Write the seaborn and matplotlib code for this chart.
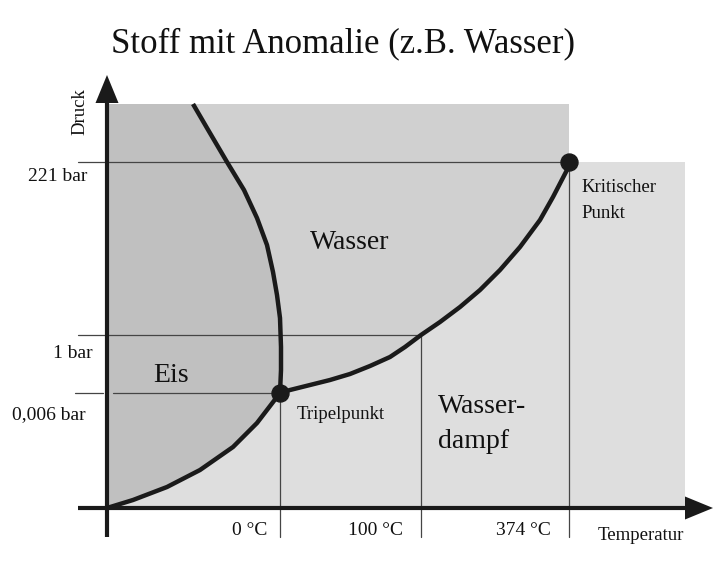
import matplotlib
matplotlib.use("Agg")
import matplotlib.pyplot as plt
import seaborn as sns
import pandas as pd

# ---- data (schematic phase diagram, axis origin at 0,0) ----
title = "Stoff mit Anomalie (z.B. Wasser)"

subl_T = [0, 26, 60, 93, 126, 150, 173]
subl_p = [0, 8, 21, 38, 61, 85, 115]

vap_T = [173, 183, 203, 223, 243, 263, 283, 298, 314, 333, 353, 373, 393,
         413, 433, 446, 460, 462]
vap_p = [115, 118, 123, 128, 134, 142, 151, 161, 173, 186, 201, 218, 238,
         261, 288, 311, 338, 346]

melt_T = [86, 100, 120, 137, 150, 160, 166, 170, 173, 174, 174, 173]
melt_p = [404, 380, 346, 318, 290, 263, 236, 213, 190, 161, 138, 115]

temp_ticks = [173, 314, 462]
temp_labels = ["0 °C", "100 °C", "374 °C"]
press_ticks = [115, 173, 346]
press_labels = ["0,006 bar", "1 bar", "221 bar"]

triple = (173, 115)
critical = (462, 346)
plot_top = 404
vapor_right = 578
axis_x_tip = 606
axis_y_tip = 433

sns.set_theme(style="white")
plt.rcParams["font.family"] = ["Liberation Serif", "DejaVu Serif"]

fig = plt.figure(figsize=(7.21, 5.62), dpi=100)
ax = fig.add_axes([0, 0, 1, 1])
ax.set_xlim(-107, 614)
ax.set_ylim(-54, 508)
ax.axis("off")

c_ice, c_water, c_vap = "#C0C0C0", "#D0D0D0", "#DEDEDE"
dark = "#1a1a1a"
thin = "#454545"

# water background rectangle
ax.fill_between([0, critical[0]], 0, plot_top, color=c_water, lw=0, zorder=0)
# vapor region
vx = subl_T + vap_T[1:] + [vapor_right, vapor_right]
vy = subl_p + vap_p[1:] + [critical[1], 0]
ax.fill(vx, vy, color=c_vap, lw=0, zorder=1)
# ice region
ix = subl_T + melt_T[::-1][1:] + [0]
iy = subl_p + melt_p[::-1][1:] + [plot_top]
ax.fill(ix, iy, color=c_ice, lw=0, zorder=1)

# thin guide lines
lw_thin = 0.9
ax.plot([-29, critical[0]], [press_ticks[2]] * 2, color=thin, lw=lw_thin, zorder=2)
ax.plot([-29, temp_ticks[1]], [press_ticks[1]] * 2, color=thin, lw=lw_thin, zorder=2)
ax.plot([-32, -4], [press_ticks[0]] * 2, color=thin, lw=lw_thin, zorder=2)
ax.plot([6, temp_ticks[0]], [press_ticks[0]] * 2, color=thin, lw=lw_thin, zorder=2)
ax.plot([temp_ticks[0]] * 2, [press_ticks[0], -29], color=thin, lw=lw_thin, zorder=2)
ax.plot([temp_ticks[1]] * 2, [press_ticks[1], -29], color=thin, lw=lw_thin, zorder=2)
ax.plot([temp_ticks[2]] * 2, [press_ticks[2], -29], color=thin, lw=lw_thin, zorder=2)

# phase boundary curves
for T, p in [(subl_T, subl_p), (vap_T, vap_p), (melt_T, melt_p)]:
    df = pd.DataFrame({"T": T, "p": p})
    sns.lineplot(data=df, x="T", y="p", sort=False, color=dark, lw=3.2,
                 ax=ax, zorder=3, estimator=None,
                 solid_joinstyle="round", solid_capstyle="butt")

# axes with arrows
ax.plot([0, 0], [-29, axis_y_tip - 28], color=dark, lw=3, zorder=4,
        solid_capstyle="butt")
ax.plot([-29, axis_x_tip - 28], [0, 0], color=dark, lw=3, zorder=4,
        solid_capstyle="butt")
ax.fill([-11.5, 11.5, 0], [axis_y_tip - 28] * 2 + [axis_y_tip], color=dark, lw=0, zorder=4)
ax.fill([axis_x_tip - 28] * 2 + [axis_x_tip], [-11.5, 11.5, 0], color=dark, lw=0, zorder=4)

# triple and critical points
pts = pd.DataFrame({"T": [triple[0], critical[0]], "p": [triple[1], critical[1]]})
sns.scatterplot(data=pts, x="T", y="p", s=150, color=dark, edgecolor=dark,
                ax=ax, zorder=5)

# texts
tc = "#111111"
ax.text(236, 456, title, fontsize=25, ha="center", va="baseline", color=tc)
small = 14
ax.text(203, 259, "Wasser", fontsize=20, ha="left", va="baseline", color=tc)
ax.text(46, 126, "Eis", fontsize=20, ha="left", va="baseline", color=tc)
ax.text(331, 95, "Wasser-", fontsize=20, ha="left", va="baseline", color=tc)
ax.text(331, 60, "dampf", fontsize=20, ha="left", va="baseline", color=tc)
ax.text(190, 89, "Tripelpunkt", fontsize=13.5, ha="left", va="baseline", color=tc)
ax.text(474, 316, "Kritischer", fontsize=13.5, ha="left", va="baseline", color=tc)
ax.text(474, 290, "Punkt", fontsize=13.5, ha="left", va="baseline", color=tc)

p_label_x = [-21, -14, -20]
p_label_y = [89, 150, 327]
for xx, yy, lab in zip(p_label_x, p_label_y, press_labels):
    ax.text(xx, yy, lab, fontsize=small, ha="right", va="baseline", color=tc)
t_label_x = [160, 296, 444]
for xx, lab in zip(t_label_x, temp_labels):
    ax.text(xx, -27, lab, fontsize=small, ha="right", va="baseline", color=tc)
ax.text(491, -32, "Temperatur", fontsize=13.5, ha="left", va="baseline", color=tc)
ax.text(-19, 396, "Druck", fontsize=13.5, rotation=90, ha="right", va="center",
        color=tc)

if ax.get_legend():
    ax.get_legend().remove()

fig.savefig("out.png", dpi=100)
